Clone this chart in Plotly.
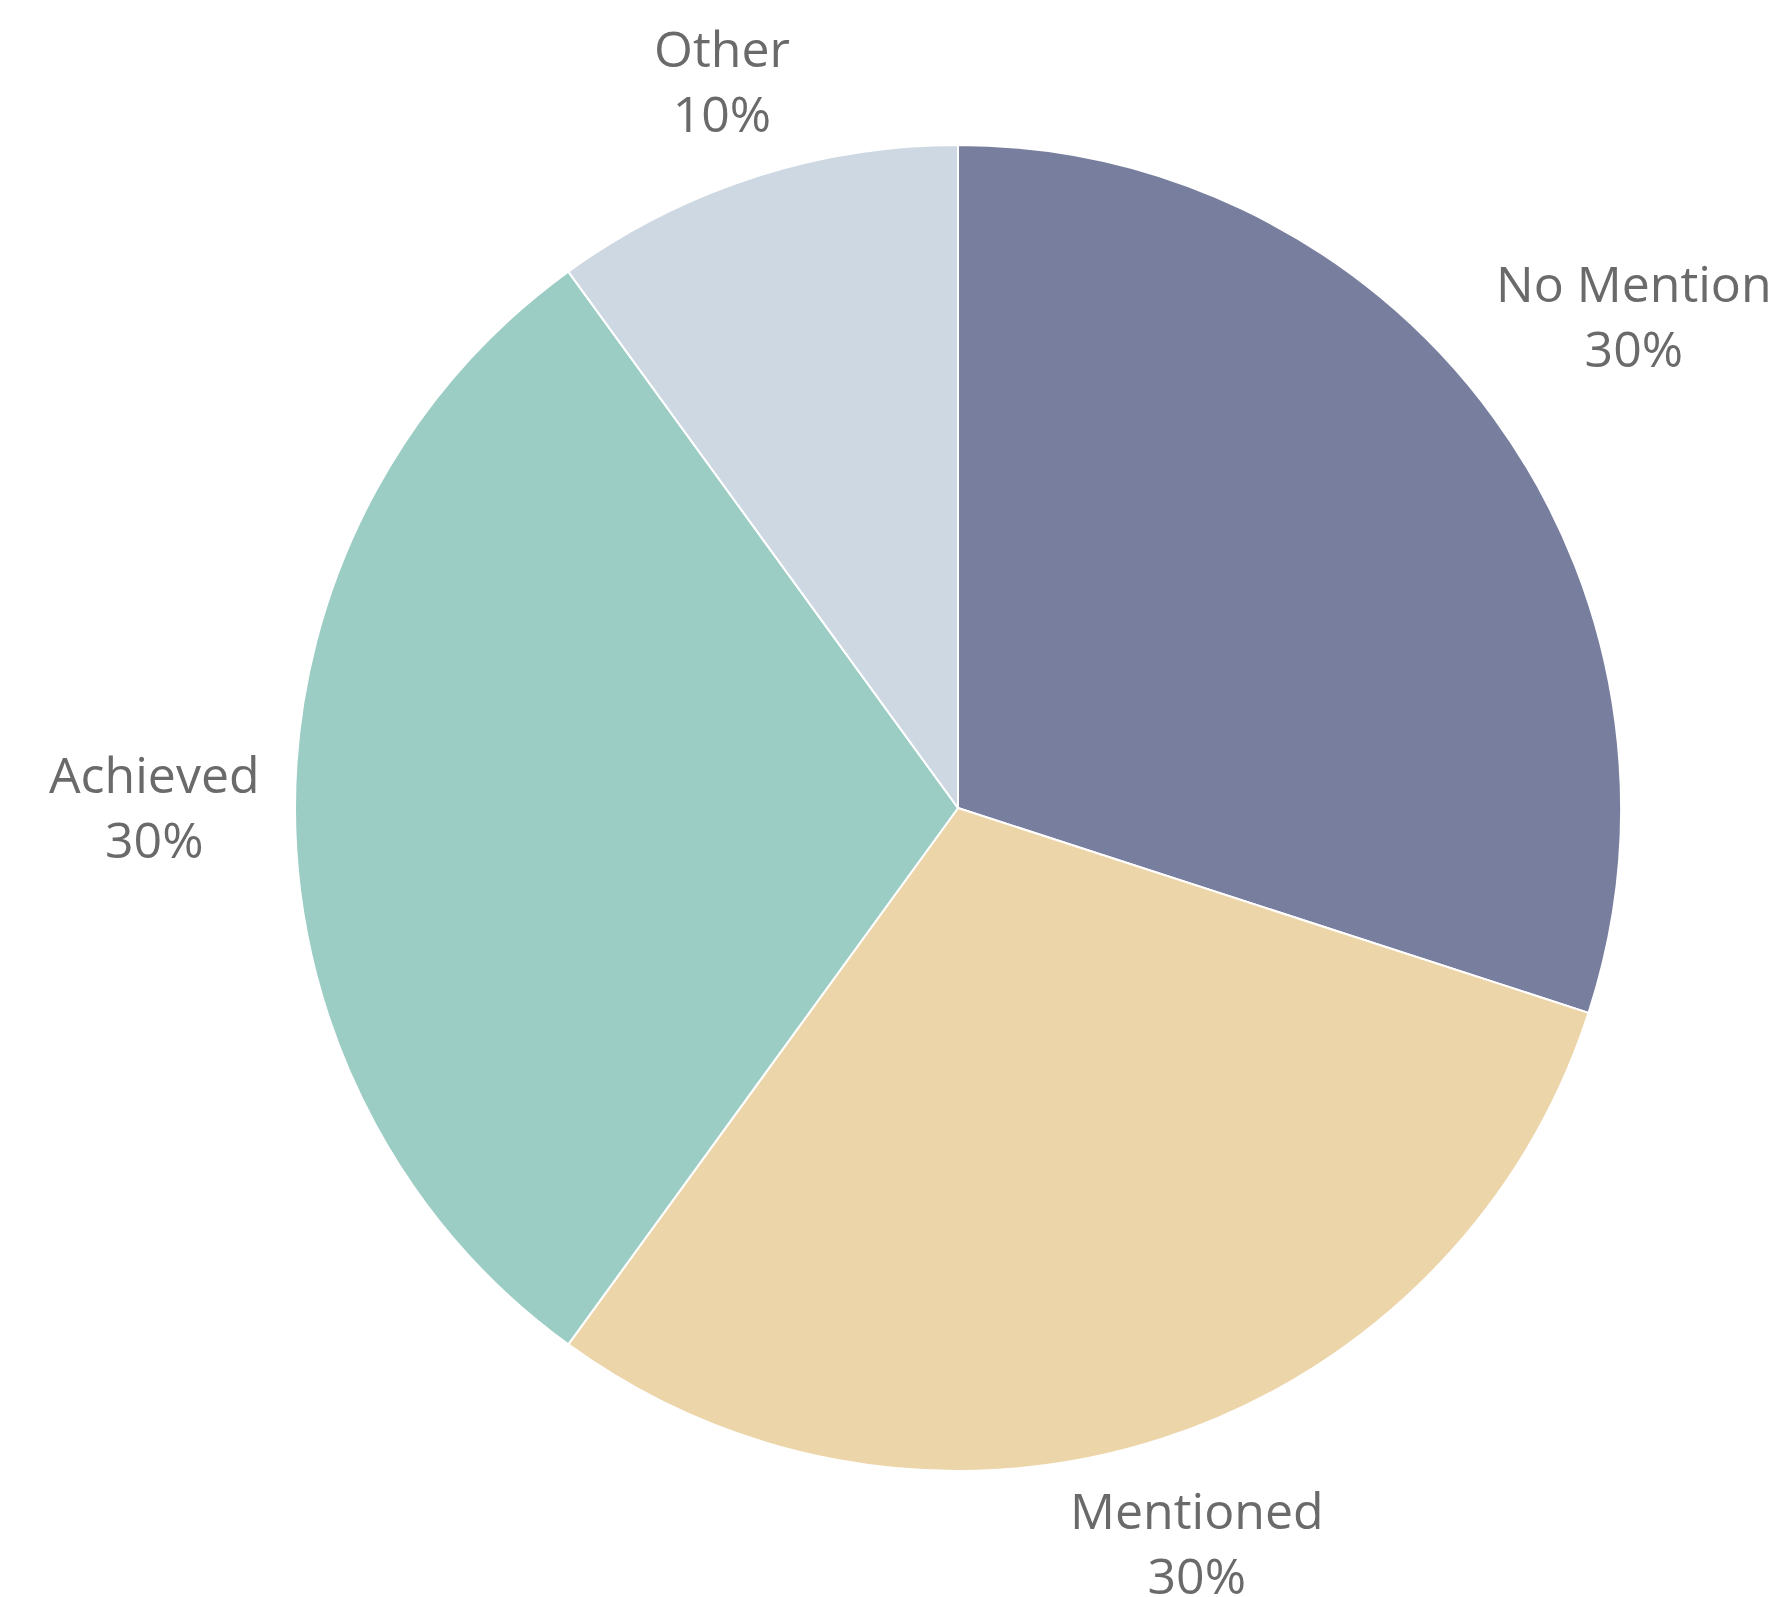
import math
import plotly.graph_objects as go

labels = ["No Mention", "Mentioned", "Achieved", "Other"]
values = [30, 30, 30, 10]
colors = ["#787e9e", "#edd5aa", "#9bcdc4", "#cdd8e2"]

W, H = 1771, 1597
cx, cy, R = 958, 808, 663          # pie centre / radius in pixels
FS = 50                            # label font size
gap = 32                           # gap between rim and nearest label corner

dom_x = [(cx - R) / W, (cx + R) / W]
dom_y = [(H - cy - R) / H, (H - cy + R) / H]

fig = go.Figure(go.Pie(
    labels=labels,
    values=values,
    sort=False,
    direction="clockwise",
    rotation=0,
    marker=dict(colors=colors, line=dict(color="white", width=2)),
    textinfo="none",
    hoverinfo="label+percent",
    domain=dict(x=dom_x, y=dom_y),
    showlegend=False,
))

total = sum(values)
cum = 0
annotations = []
for lab, v in zip(labels, values):
    mid = (cum + v / 2) / total * 2 * math.pi
    cum += v
    pct = round(v / total * 100)
    text_lines = [lab, f"{pct}%"]
    # approximate text block half-sizes
    hw = 0.55 * FS * max(len(t) for t in text_lines) / 2
    hh = 1.02 * FS
    ux, uy = math.sin(mid), -math.cos(mid)
    sx = 0 if abs(ux) < 1e-6 else math.copysign(1, ux)
    sy = 0 if abs(uy) < 1e-6 else math.copysign(1, uy)
    c = (sx * hw, sy * hh if sy else hh)
    uc = ux * c[0] + uy * (c[1] if sy else 0)
    cc = c[0] ** 2 + c[1] ** 2
    d = uc + math.sqrt(uc ** 2 - cc + (R + gap) ** 2)
    px = cx + d * ux
    py = cy + d * uy
    annotations.append(dict(
        x=px / W, y=1 - (py - 2) / H, xref="paper", yref="paper",
        text="<br>".join(text_lines), showarrow=False,
        xanchor="center", yanchor="middle", align="center",
        font=dict(family="Open Sans", size=FS, color="#6a6a6a"),
    ))

fig.update_layout(
    width=W, height=H,
    margin=dict(l=0, r=0, t=0, b=0),
    paper_bgcolor="white",
    plot_bgcolor="white",
    annotations=annotations,
)

fig.write_html("out.html")
